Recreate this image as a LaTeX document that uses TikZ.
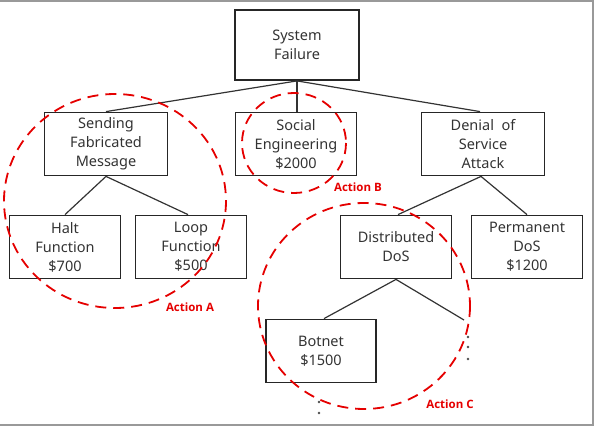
\documentclass[tikz,border=0pt]{standalone}
\usepackage{fontspec}
\setmainfont{Noto Sans}
\newfontfamily\lblfont{Open Sans}
\begin{document}
\begin{tikzpicture}[x=1pt,y=-1pt,
  box/.style={draw=black!85, line width=1.8pt, minimum width=#1, minimum height=63pt, align=center, font=\fontsize{14.5}{19}\selectfont, text=black!80, inner sep=0pt},
  box/.default=111pt,
  conn/.style={draw=black!80, line width=1.2pt},
  act/.style={draw=red!90!black, line width=1.8pt, dash pattern=on 11pt off 7pt},
  actlabel/.style={text=red!90!black, font=\lblfont\fontsize{11.5}{13}\selectfont\bfseries},
  dotc/.style={fill=black!70, circle, inner sep=0pt, minimum size=2.6pt}]
\useasboundingbox (0,0) rectangle (598,426);
\draw[gray!80, line width=2pt] (0,1) -- (593,1) -- (593,425) -- (0,425);
% nodes
\node[box=124pt, minimum height=70pt] (sys) at (297,45) {System\\Failure};
\node[box=123pt] (send) at (106,144) {Sending\\Fabricated\\Message};
\node[box=121pt] (soc) at (296,144) {Social\\Engineering\\\$2000};
\node[box=123pt] (dos) at (483,144) {Denial\ \ of\\Service\\Attack};
\node[box] (halt) at (65,247) {Halt\\Function\\\$700};
\node[box] (loop) at (191,247) {Loop\\Function\\\$500};
\node[box] (ddos) at (396,247) {Distributed\\DoS};
\node[box] (pdos) at (527,247) {Permanent\\DoS\\\$1200};
\node[box=110pt] (bot) at (321,351) {Botnet\\\$1500};
\coordinate (free) at (464,320);
% connectors
\draw[conn] (sys.south) -- (send.north);
\draw[conn] (sys.south) -- (soc.north -| sys.south);
\draw[conn] (sys.south) -- ([xshift=-3pt]dos.north);
\draw[conn] (send.south) -- (halt.north);
\draw[conn] (send.south) -- ([xshift=-3pt]loop.north);
\draw[conn] ([xshift=-2pt]dos.south) -- ([xshift=2pt]ddos.north);
\draw[conn] ([xshift=-2pt]dos.south) -- (pdos.north);
\draw[conn] (ddos.south) -- ([xshift=3pt]bot.north);
\draw[conn] (ddos.south) -- (free);
% dots
\node[dotc] (d1) at (468,337) {};
\node[dotc] (d2) at (468,347) {};
\node[dotc] (d3) at (468,359) {};
\node[dotc] (d4) at (319,402) {};
\node[dotc] (d5) at (319,413) {};
% action ellipses
\draw[act] (115,201) ellipse [x radius=111, y radius=107];
\draw[act] (294,143) ellipse [x radius=52, y radius=50];
\draw[act] (364,306) ellipse [x radius=106, y radius=103];
\node[actlabel] (la) at (190,307) {Action A};
\node[actlabel] (lb) at (358,187) {Action B};
\node[actlabel] (lc) at (450,404) {Action C};
\end{tikzpicture}
\end{document}
